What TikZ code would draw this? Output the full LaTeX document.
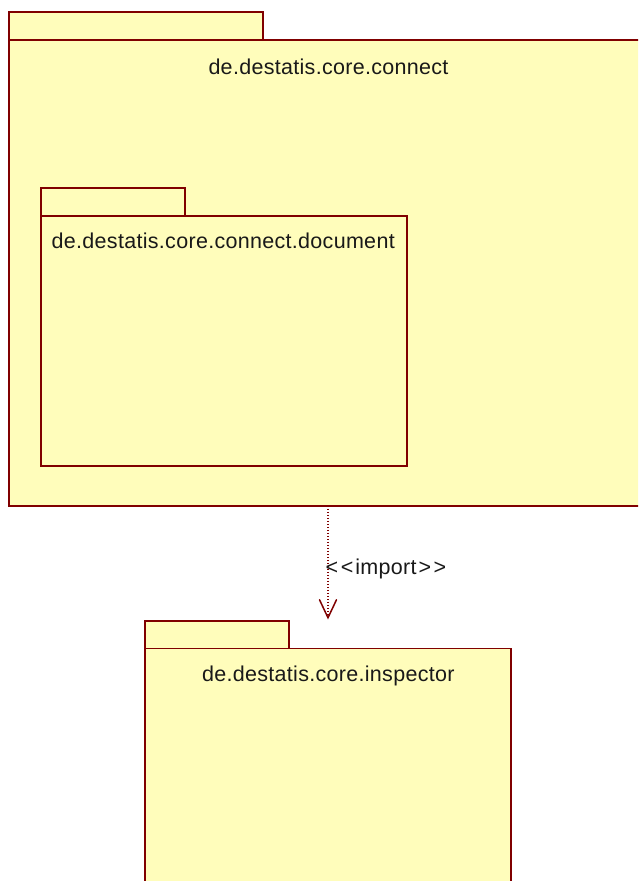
\documentclass[tikz,border=0pt]{standalone}
\usepackage{fontspec}
\setmainfont[LetterSpace=1.4]{Liberation Sans}
\usetikzlibrary{arrows.meta}
\definecolor{pkgline}{RGB}{128,0,0}
\definecolor{pkgfill}{RGB}{255,253,187}
\tikzset{
  pkg/.style={draw=pkgline, fill=pkgfill, line width=1.8pt, inner sep=0pt},
  pkglabel/.style={font=\fontsize{21.5}{24}\selectfont, inner sep=0pt, text=black!90},
  importdep/.style={draw=pkgline, line width=1.5pt, dash pattern=on 1.5pt off 1.5pt,
    -{Straight Barb[length=18pt, width=17pt, line width=1.5pt, line cap=round]}},
}
\begin{document}
\begin{tikzpicture}[x=1pt, y=-1pt]
  \clip (0,0) rectangle (638,881);
  \fill[white] (0,0) rectangle (638,881);

  % package de.destatis.core.connect
  \node[pkg, minimum width=254pt, minimum height=28pt, anchor=north west] (connecttab) at (8,11) {};
  \node[pkg, minimum width=660pt, minimum height=466pt, anchor=north west] (connect) at (8,39) {};
  \node[pkglabel, anchor=base] (connectname) at (328.5,74) {de.destatis.core.connect};

  % nested package de.destatis.core.connect.document
  \node[pkg, minimum width=144pt, minimum height=28pt, anchor=north west] (doctab) at (40,187) {};
  \node[pkg, minimum width=366pt, minimum height=250pt, anchor=north west] (doc) at (40,215) {};
  \node[pkglabel, anchor=base west] (docname) at (51.5,248) {de.destatis.core.connect.document};

  % package de.destatis.core.inspector
  \node[pkg, minimum width=144pt, minimum height=27.5pt, anchor=north west] (insptab) at (144,620) {};
  \node[pkg, minimum width=366pt, minimum height=260pt, anchor=north west] (insp) at (144,647.5) {};
  \node[pkglabel, anchor=base] (inspname) at (328.3,681) {de.destatis.core.inspector};

  % import dependency
  \coordinate (depstart) at (328,505.8);
  \coordinate (depend) at (328,619.5);
  \draw[importdep] (depstart) -- (depend);
  \node[pkglabel, anchor=base west] (importlabel) at (325.5,574)
    {<\kern2.5pt<\kern2pt import\kern2pt>\kern2.5pt>};
\end{tikzpicture}
\end{document}
